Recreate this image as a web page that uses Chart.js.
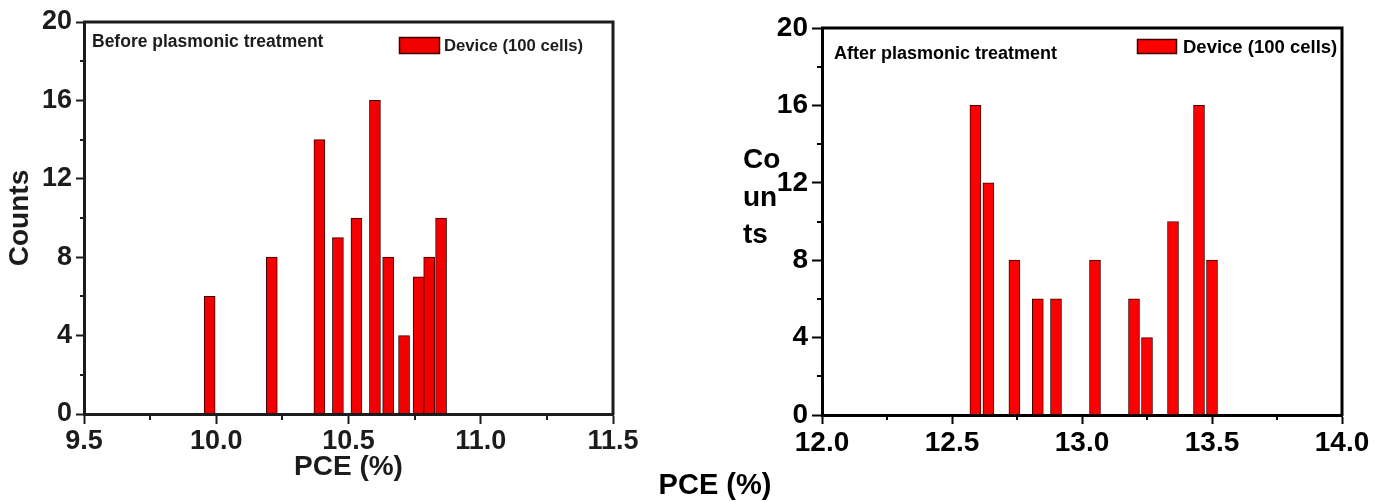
<!DOCTYPE html>
<html>
<head>
<meta charset="utf-8">
<script src="https://cdn.jsdelivr.net/npm/chart.js@4.4.1/dist/chart.umd.min.js"></script>
<style>
html, body { margin: 0; padding: 0; background: #fff; }
#wrap { position: relative; width: 1390px; height: 502px; overflow: hidden; }
canvas { position: absolute; top: 0; }
#before { left: 0; }
#after { left: 640px; }
</style>
</head>
<body>
<div id="wrap">
	<canvas id="before" width="640" height="502"></canvas>
	<canvas id="after" width="750" height="502"></canvas>
</div>
<script>
// PCE bins (%) and cell counts
var beforePce    = [9.975, 10.21, 10.39, 10.46, 10.53, 10.60, 10.65, 10.71, 10.765, 10.805, 10.85]
var beforeCounts = [6, 8, 14, 9, 10, 16, 8, 4, 7, 8, 10]
var afterPce     = [12.59, 12.64, 12.74, 12.83, 12.90, 13.05, 13.20, 13.25, 13.35, 13.45, 13.50]
var afterCounts  = [16, 12, 8, 6, 6, 8, 6, 4, 10, 16, 8]

var beforeTicks = [9.5, 10.0, 10.5, 11.0, 11.5]
var afterTicks  = [12.0, 12.5, 13.0, 13.5, 14.0]
var countTicks  = [0, 4, 8, 12, 16, 20]

var seriesName = 'Device (100 cells)'

Chart.defaults.font.family = '"Liberation Sans", Arial, Helvetica, sans-serif'
Chart.defaults.animation = false

function isMajor(list, v) {
	return list.some(function (t) { return Math.abs(t - v) < 1e-6 })
}

function points(xs, ys) {
	return xs.map(function (x, i) { return { x: x, y: ys[i] } })
}

// frame on top/right, short minor ticks, in-plot legend, loose texts
var framePlugin = {
	id: 'frame'
	, afterDraw: function (chart, args, o) {
		var ctx = chart.ctx
		  , a = chart.chartArea
		  , sx = chart.scales.x
		  , sy = chart.scales.y
		  , ds = chart.data.datasets[0]
		ctx.save()
		ctx.strokeStyle = o.color
		ctx.lineWidth = o.lineWidth
		ctx.beginPath()
		ctx.moveTo(a.left - 1, a.top)
		ctx.lineTo(a.right, a.top)
		ctx.lineTo(a.right, a.bottom + 1)
		ctx.stroke()

		ctx.lineWidth = 2
		sx.ticks.forEach(function (t) {
			if (isMajor(o.xMajor, t.value)) return
			var px = Math.round(sx.getPixelForValue(t.value))
			ctx.beginPath()
			ctx.moveTo(px, a.bottom)
			ctx.lineTo(px, a.bottom + o.minorX)
			ctx.stroke()
		})
		sy.ticks.forEach(function (t) {
			if (isMajor(countTicks, t.value)) return
			var py = Math.round(sy.getPixelForValue(t.value))
			ctx.beginPath()
			ctx.moveTo(a.left, py)
			ctx.lineTo(a.left - o.minorY, py)
			ctx.stroke()
		})

		// legend
		var L = o.legend
		  , bx = a.left + L.x
		  , by = a.top + L.y
		ctx.fillStyle = ds.backgroundColor
		ctx.fillRect(bx, by, L.w, L.h)
		ctx.lineWidth = 1.5
		ctx.strokeStyle = ds.borderColor
		ctx.strokeRect(bx + 0.5, by + 0.5, L.w - 1, L.h - 1)
		ctx.fillStyle = o.color
		ctx.font = 'bold ' + L.size + 'px "Liberation Sans", Arial, sans-serif'
		ctx.textAlign = 'left'
		ctx.textBaseline = 'middle'
		ctx.fillText(ds.label, bx + L.w + L.gap, by + L.h / 2 + 1)

		o.texts.forEach(function (t) {
			ctx.font = t.font
			ctx.fillStyle = t.color
			ctx.textAlign = t.align || 'left'
			ctx.textBaseline = 'alphabetic'
			var x = t.inArea ? a.left + t.x : t.x
			var y = t.inArea ? a.top + t.y : t.y
			t.lines.forEach(function (line, i) {
				ctx.fillText(line, x, y + i * (t.step || 0))
			})
		})
		ctx.restore()
	}
}

function histogram(el, cfg) {
	var bold = function (size) { return { size: size, weight: 'bold' } }
	var tickColor = function (list) {
		return function (c) { return c.tick && isMajor(list, c.tick.value) ? cfg.ink : 'rgba(0,0,0,0)' }
	}
	return new Chart(el, {
		type: 'bar'
		, data: {
			datasets: [{
				label: seriesName
				, data: points(cfg.xs, cfg.ys)
				, backgroundColor: cfg.fill
				, borderColor: cfg.edge
				, borderWidth: 1
				, borderSkipped: false
				, barThickness: 11
			}]
		}
		, options: {
			responsive: false
			, devicePixelRatio: 1
			, events: []
			, layout: { padding: cfg.padding }
			, scales: {
				x: {
					type: 'linear'
					, min: cfg.xTicks[0]
					, max: cfg.xTicks[cfg.xTicks.length - 1]
					, offset: false
					, afterFit: function (s) { s.height = cfg.xHeight }
					, ticks: {
						stepSize: 0.25
						, autoSkip: false
						, maxRotation: 0
						, padding: cfg.xPad
						, color: cfg.ink
						, font: bold(cfg.tickSize)
						, callback: function (v) { return isMajor(cfg.xTicks, v) ? v.toFixed(1) : '' }
					}
					, grid: {
						drawOnChartArea: false
						, offset: false
						, tickLength: cfg.xTick
						, tickWidth: 2
						, tickColor: tickColor(cfg.xTicks)
					}
					, border: { color: cfg.ink, width: 3 }
					, title: cfg.xTitle
				}
				, y: {
					min: 0
					, max: 20
					, afterFit: function (s) { s.width = cfg.yWidth }
					, ticks: {
						stepSize: 2
						, padding: 4
						, color: cfg.ink
						, font: bold(cfg.tickSize)
						, callback: function (v) { return isMajor(countTicks, v) ? String(v) : '' }
					}
					, grid: {
						drawOnChartArea: false
						, tickLength: cfg.yTick
						, tickWidth: 2
						, tickColor: tickColor(countTicks)
					}
					, border: { color: cfg.ink, width: 3 }
					, title: cfg.yTitle
				}
			}
			, plugins: {
				tooltip: { enabled: false }
				, legend: { display: false }
				, frame: {
					color: cfg.ink
					, lineWidth: 3
					, xMajor: cfg.xTicks
					, minorX: cfg.minorX
					, minorY: cfg.minorY
					, legend: cfg.legend
					, texts: cfg.texts
				}
			}
		}
		, plugins: [framePlugin]
	})
}

histogram(document.getElementById('before'), {
	xs: beforePce
	, ys: beforeCounts
	, xTicks: beforeTicks
	, fill: '#f20000'
	, edge: '#3a0000'
	, ink: '#1c1c1c'
	, padding: { top: 22, right: 27, left: 0, bottom: 0 }
	, xHeight: 88
	, yWidth: 84
	, tickSize: 27
	, xPad: 1
	, xTick: 10
	, yTick: 8
	, minorX: 6
	, minorY: 4
	, xTitle: { display: true, text: 'PCE (%)', color: '#1c1c1c', font: { size: 28, weight: 'bold' }, padding: { top: 0, bottom: 18 } }
	, yTitle: { display: true, text: 'Counts', color: '#1c1c1c', font: { size: 28, weight: 'bold' }, padding: { top: 3, bottom: 0 } }
	, legend: { x: 315, y: 15, w: 41, h: 17, gap: 4, size: 16.7 }
	, texts: [
		{ lines: ['Before plasmonic treatment'], x: 8, y: 25, inArea: true, font: 'bold 17.5px "Liberation Sans", Arial, sans-serif', color: '#1c1c1c' }
	]
})

histogram(document.getElementById('after'), {
	xs: afterPce
	, ys: afterCounts
	, xTicks: afterTicks
	, fill: '#ff0000'
	, edge: '#400000'
	, ink: '#000'
	, padding: { top: 28, right: 48, left: 0, bottom: 0 }
	, xHeight: 87
	, yWidth: 182
	, tickSize: 28
	, xPad: 2
	, xTick: 9
	, yTick: 10
	, minorX: 5
	, minorY: 5
	, xTitle: { display: false }
	, yTitle: { display: false }
	, legend: { x: 315, y: 11, w: 40, h: 15, gap: 6, size: 18.5 }
	, texts: [
		{ lines: ['After plasmonic treatment'], x: 12, y: 31, inArea: true, font: 'bold 18px "Liberation Sans", Arial, sans-serif', color: '#000' }
		, { lines: ['Co', 'un', 'ts'], x: 103, y: 168, step: 37.5, font: 'bold 28px "Liberation Sans", Arial, sans-serif', color: '#000' }
		, { lines: ['PCE (%)'], x: 75, y: 494, align: 'center', font: 'bold 29px "Liberation Sans", Arial, sans-serif', color: '#000' }
	]
})
</script>
</body>
</html>
